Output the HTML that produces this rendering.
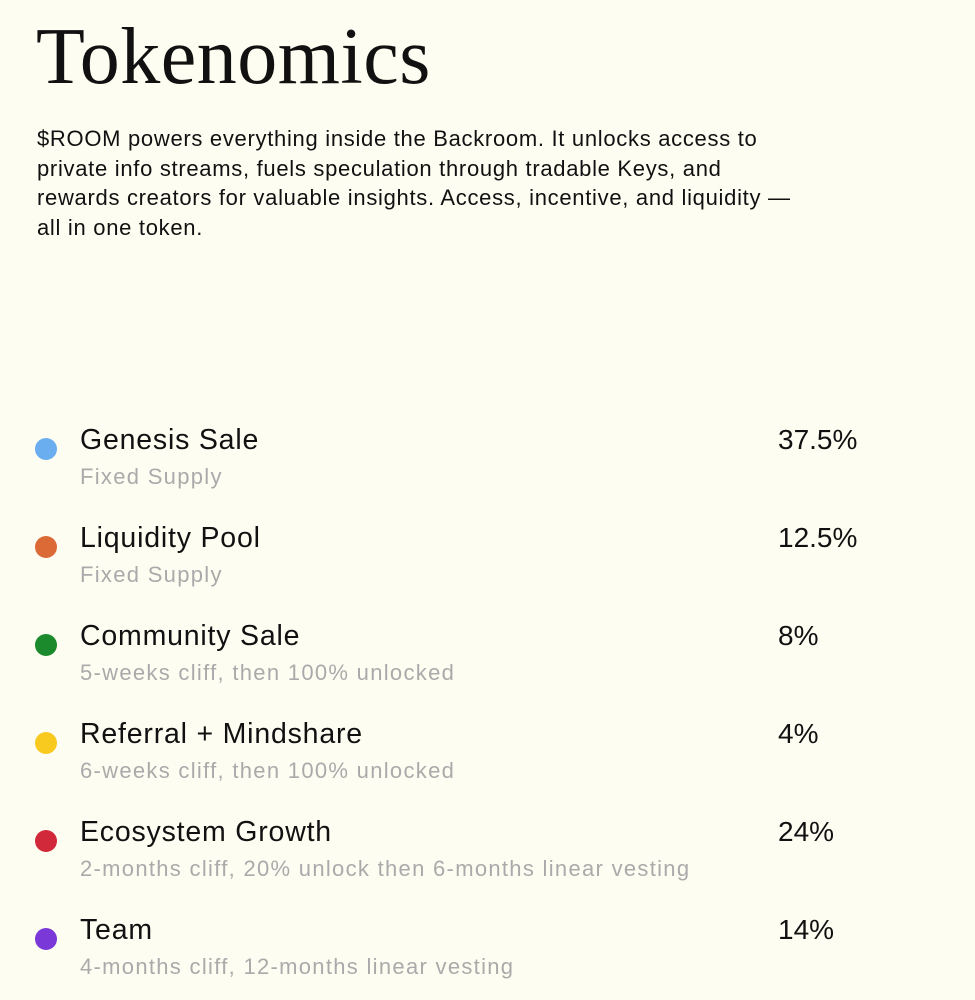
<!DOCTYPE html>
<html><head><meta charset="utf-8"><style>
body{margin:0;background:#fefdf2;width:975px;height:994px;overflow:hidden;font-family:"Liberation Sans",sans-serif;color:#111}
h1{position:absolute;left:36px;top:12px;margin:0;font-family:"Liberation Serif",serif;font-weight:normal;font-size:80px;letter-spacing:0.5px;line-height:90px}
p{position:absolute;left:37px;top:124px;margin:0;font-size:22px;line-height:29.5px;width:900px;letter-spacing:0.7px}
.it{position:absolute;left:0;width:975px;height:90px}
.dot{position:absolute;left:35px;top:18px;width:22px;height:22px;border-radius:50%}
.n{position:absolute;left:80px;top:2px;font-size:28.5px;line-height:36px;letter-spacing:0.8px}
.s{position:absolute;left:80px;top:43px;font-size:22px;color:#aaa;line-height:28px;letter-spacing:1.3px}
.v{position:absolute;left:778px;top:2px;font-size:28px;line-height:36px}
</style></head><body>
<h1>Tokenomics</h1>
<p>$ROOM powers everything inside the Backroom. It unlocks access to<br>private info streams, fuels speculation through tradable Keys, and<br>rewards creators for valuable insights. Access, incentive, and liquidity —<br>all in one token.</p>
<div class="it" style="top:420px"><div class="dot" style="background:#6aaef0"></div><div class="n">Genesis Sale</div><div class="s">Fixed Supply</div><div class="v">37.5%</div></div>
<div class="it" style="top:518px"><div class="dot" style="background:#db6a37"></div><div class="n">Liquidity Pool</div><div class="s">Fixed Supply</div><div class="v">12.5%</div></div>
<div class="it" style="top:616px"><div class="dot" style="background:#1b8a2c"></div><div class="n">Community Sale</div><div class="s">5-weeks cliff, then 100% unlocked</div><div class="v">8%</div></div>
<div class="it" style="top:714px"><div class="dot" style="background:#f8c91f"></div><div class="n">Referral + Mindshare</div><div class="s">6-weeks cliff, then 100% unlocked</div><div class="v">4%</div></div>
<div class="it" style="top:812px"><div class="dot" style="background:#d1283a"></div><div class="n">Ecosystem Growth</div><div class="s">2-months cliff, 20% unlock then 6-months linear vesting</div><div class="v">24%</div></div>
<div class="it" style="top:910px"><div class="dot" style="background:#7b38d8"></div><div class="n">Team</div><div class="s">4-months cliff, 12-months linear vesting</div><div class="v">14%</div></div>
</body></html>
